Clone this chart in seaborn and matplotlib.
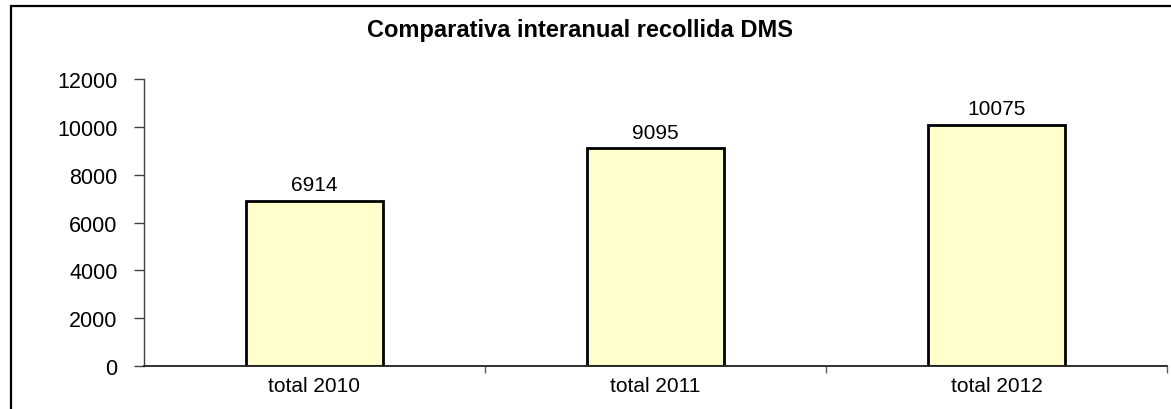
import matplotlib
matplotlib.use("Agg")
import matplotlib.pyplot as plt
import matplotlib.patches as patches
import seaborn as sns

categories = ["total 2010", "total 2011", "total 2012"]
values = [6914, 9095, 10075]
yticks = [0, 2000, 4000, 6000, 8000, 10000, 12000]
title = "Comparativa interanual recollida DMS"

sns.set_style("white")
plt.rcParams['font.family'] = ['Liberation Sans', 'DejaVu Sans']
plt.rcParams['text.color'] = 'black'
plt.rcParams['xtick.color'] = 'black'
plt.rcParams['ytick.color'] = 'black'

fig = plt.figure(figsize=(11.71, 4.10), dpi=100)
ax = fig.add_axes([144/1171, 1 - 367/410, (1167-144)/1171, (367-80)/410])

sns.barplot(x=categories, y=values, color="#FFFFCC", edgecolor="black",
            linewidth=2, width=0.4, saturation=1, ax=ax)
ax.bar_label(ax.containers[0], fmt="%d", padding=5, fontsize=15)

ax.set_xlim(-0.5, 2.5)
ax.set_ylim(0, 12000)
ax.set_yticks(yticks)
ax.set_yticklabels([str(t) for t in yticks], fontsize=15.5)
ax.tick_params(axis='y', direction='out', length=7, width=1, color='#404040', pad=12, left=True)
ax.tick_params(axis='x', which='major', length=0, labelsize=15, pad=7)
ax.set_xticks([0.5, 1.5, 2.5], minor=True)
ax.tick_params(axis='x', which='minor', direction='out', length=5, width=1, color='#606060', bottom=True)

for s in ['top', 'right']:
    ax.spines[s].set_visible(False)
ax.spines['left'].set_color('#404040')
ax.spines['bottom'].set_color('#202020')
ax.spines['left'].set_linewidth(1)
ax.spines['bottom'].set_linewidth(1.3)

fig.text(580/1171, 1 - 30/410, title, ha='center', va='center', fontsize=17, fontweight='bold')

# outer chart border
border = patches.Rectangle((11/1171, -0.2), 1.2, 1 - 7/410 + 0.2, transform=fig.transFigure,
                           fill=False, edgecolor='black', linewidth=1.6, clip_on=False)
fig.patches.append(border)

fig.savefig("out.png", dpi=100)
